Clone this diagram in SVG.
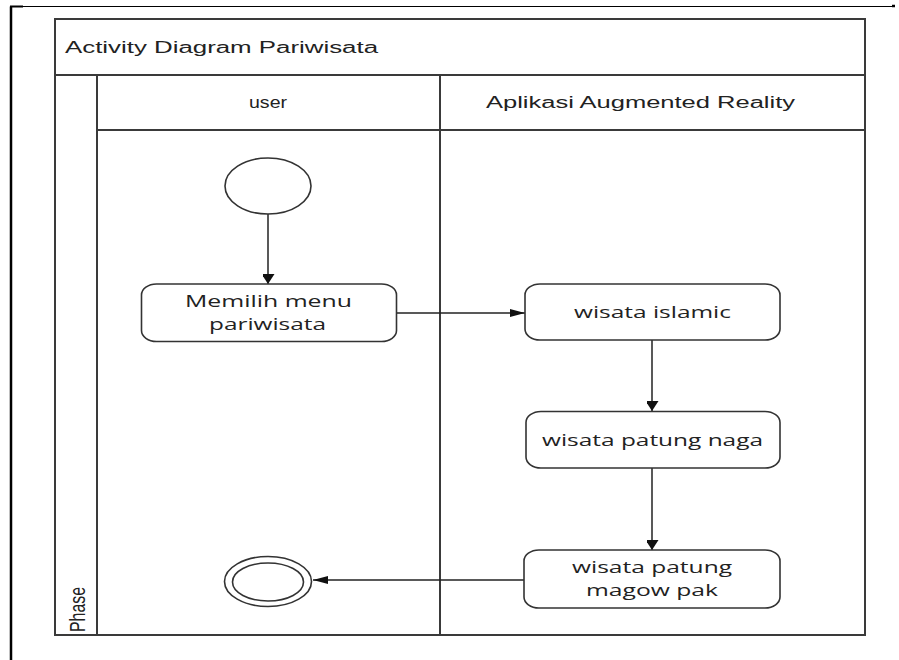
<svg xmlns="http://www.w3.org/2000/svg" width="899" height="660" viewBox="0 0 899 660">
  <style>
    .frame { fill: none; stroke: #3a3a3a; stroke-width: 2; }
    .node { fill: #ffffff; stroke: #333333; stroke-width: 1.6; }
    .flow { fill: none; stroke: #222222; stroke-width: 1.5; }
    .hdr { font-family: "Liberation Sans", Arial, sans-serif; font-size: 16px; fill: #222222; }
    .lbl { font-family: "Open Sans", "DejaVu Sans", sans-serif; font-size: 17px; fill: #222222; text-anchor: start; }
  </style>
  <defs>
    <marker id="arrowV" markerUnits="userSpaceOnUse" markerWidth="14" markerHeight="12" refX="10" refY="6.5" orient="auto">
      <path d="M0,0 L10,6.5 L0,13 Z" fill="#111111"/>
    </marker>
    <marker id="arrowH" markerUnits="userSpaceOnUse" markerWidth="16" markerHeight="10" refX="15" refY="4" orient="auto">
      <path d="M0,0 L15,4 L0,8 Z" fill="#111111"/>
    </marker>
  </defs>

  <rect x="0" y="0" width="899" height="660" fill="#ffffff"/>

  <!-- page border -->
  <g id="page-border">
    <line x1="11" y1="6.5" x2="11" y2="660" stroke="#000000" stroke-width="2.5"/>
    <line x1="10" y1="6.5" x2="895" y2="6.5" stroke="#000000" stroke-width="1.2"/>
    <line x1="10" y1="6.5" x2="23" y2="6.5" stroke="#000000" stroke-width="2"/>
    <line x1="892" y1="6" x2="895" y2="6" stroke="#000000" stroke-width="2.5"/>
  </g>

  <!-- swimlane frame -->
  <g id="swimlanes">
    <rect class="frame" x="55" y="19" width="810" height="616"/>
    <line class="frame" x1="55" y1="75" x2="865" y2="75"/>
    <line class="frame" x1="97" y1="130" x2="865" y2="130"/>
    <line class="frame" x1="97" y1="75" x2="97" y2="635"/>
    <line class="frame" x1="440" y1="75" x2="440" y2="635"/>
    <text class="hdr" x="65" y="53" textLength="313" lengthAdjust="spacingAndGlyphs">Activity Diagram Pariwisata</text>
    <text class="hdr" x="249" y="108" textLength="38" lengthAdjust="spacingAndGlyphs">user</text>
    <text class="hdr" x="486" y="108" textLength="309" lengthAdjust="spacingAndGlyphs">Aplikasi Augmented Reality</text>
    <text class="hdr" transform="translate(85,632) rotate(-90) scale(1,1.4)" x="0" y="0" font-size="15" textLength="45" lengthAdjust="spacingAndGlyphs">Phase</text>
  </g>

  <!-- connectors -->
  <g id="connectors">
    <line class="flow" x1="268" y1="214" x2="268" y2="284" marker-end="url(#arrowV)"/>
    <line class="flow" x1="397" y1="313" x2="525" y2="313" marker-end="url(#arrowH)"/>
    <line class="flow" x1="652" y1="340" x2="652" y2="411" marker-end="url(#arrowV)"/>
    <line class="flow" x1="652" y1="468" x2="652" y2="550" marker-end="url(#arrowV)"/>
    <line class="flow" x1="524" y1="580" x2="313" y2="580" marker-end="url(#arrowH)"/>
  </g>

  <g id="start">
    <ellipse class="node" cx="268" cy="186" rx="43" ry="28"/>
  </g>

  <g id="memilih-menu">
    <rect class="node" x="141.5" y="284" width="255" height="57.5" rx="15" ry="11"/>
    <text class="lbl" x="185" y="307" textLength="167" lengthAdjust="spacingAndGlyphs">Memilih menu</text>
    <text class="lbl" x="209" y="330" textLength="117" lengthAdjust="spacingAndGlyphs">pariwisata</text>
  </g>

  <g id="wisata-islamic">
    <rect class="node" x="525" y="284" width="255" height="56" rx="15" ry="11"/>
    <text class="lbl" x="574" y="318" textLength="157" lengthAdjust="spacingAndGlyphs">wisata islamic</text>
  </g>

  <g id="wisata-patung-naga">
    <rect class="node" x="526" y="411.5" width="254" height="56.5" rx="15" ry="11"/>
    <text class="lbl" x="542" y="446" textLength="221" lengthAdjust="spacingAndGlyphs">wisata patung naga</text>
  </g>

  <g id="wisata-magow-pak">
    <rect class="node" x="524" y="550" width="256" height="58" rx="15" ry="11"/>
    <text class="lbl" x="572" y="573" textLength="160" lengthAdjust="spacingAndGlyphs">wisata patung</text>
    <text class="lbl" x="586" y="596" textLength="132" lengthAdjust="spacingAndGlyphs">magow pak</text>
  </g>

  <g id="end">
    <ellipse class="node" cx="268" cy="581.5" rx="43.5" ry="25"/>
    <ellipse class="node" cx="268" cy="582" rx="35.5" ry="19"/>
  </g>
</svg>
